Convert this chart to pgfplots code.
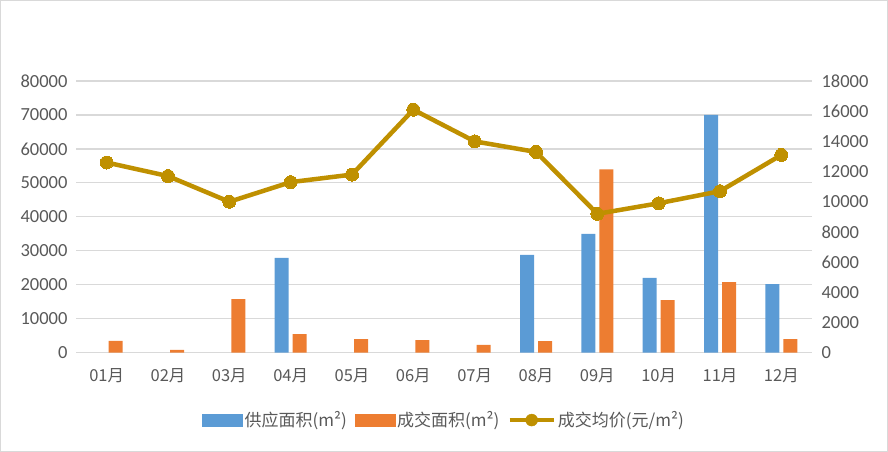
\documentclass[border=0pt]{standalone}
\usepackage{pgfplots}
\pgfplotsset{compat=1.18}
\usepackage{fontspec}
\setmainfont{Carlito}
\newfontfamily\cjk{Noto Sans CJK SC}
\definecolor{cblue}{HTML}{5B9BD5}
\definecolor{corange}{HTML}{ED7D31}
\definecolor{cgold}{HTML}{BF9000}
\definecolor{cgrid}{HTML}{D9D9D9}
\definecolor{ctext}{HTML}{595959}
\begin{document}
\begin{tikzpicture}
\draw[cgrid, line width=1pt] (0.5pt,0.5pt) rectangle (887.5pt,451.5pt);
\pgfplotsset{
  common/.style={
    at={(76pt,99.3pt)}, anchor=south west,
    scale only axis, width=736pt, height=271.7pt,
    xmin=-0.5, xmax=11.5,
    major tick length=0pt,
    scaled y ticks=false,
    tick label style={font=\fontsize{18.5}{20}\selectfont, text=ctext},
    /pgf/number format/assume math mode=true,
    /pgf/number format/fixed,
    /pgf/number format/1000 sep={},
  }
}
\begin{axis}[common,
  ymin=0, ymax=80000, ytick distance=10000,
  axis y line*=left, axis x line*=bottom,
  y axis line style={draw=none},
  x axis line style={draw=cgrid, line width=1.2pt},
  ymajorgrids, grid style={cgrid, line width=1.2pt},
  xtick={0,...,11},
  xticklabels={01月,02月,03月,04月,05月,06月,07月,08月,09月,10月,11月,12月},
  xticklabel style={font=\cjk\fontsize{16.5}{20}\selectfont, text=ctext, yshift=-12pt},
  yticklabel style={xshift=-5pt},
  ybar, bar width=14pt,
]
\addplot[fill=cblue, draw=none, bar shift=-9pt] coordinates {
 (3,27900) (7,28800) (8,35000) (9,22000) (10,70000) (11,20200)};
\addplot[fill=corange, draw=none, bar shift=9pt] coordinates {
 (0,3500) (1,800) (2,15800) (3,5500) (4,4000) (5,3700) (6,2300) (7,3400) (8,54000) (9,15500) (10,20800) (11,4000)};
\end{axis}
\begin{axis}[common,
  ymin=0, ymax=18000, ytick distance=2000,
  axis y line*=right, axis x line=none,
  y axis line style={draw=none},
  yticklabel style={xshift=6pt},
  legend style={at={(0.5,-0.248)}, anchor=center, draw=none, fill=none,
    legend columns=3, font=\cjk\fontsize{17}{20}\selectfont, text=ctext,
    /tikz/every even column/.append style={column sep=6pt}},
  legend cell align=left,
]
\addlegendimage{legend image code/.code={\fill[cblue] (0pt,-6pt) rectangle (40pt,6pt);}}
\addlegendentry{供应面积(m²)}
\addlegendimage{legend image code/.code={\fill[corange] (0pt,-6pt) rectangle (40pt,6pt);}}
\addlegendentry{成交面积(m²)}
\addlegendimage{legend image code/.code={\draw[cgold, line width=4.5pt] (0pt,0pt) -- (44pt,0pt); \fill[cgold] (22pt,0pt) circle (6pt);}}
\addlegendentry{成交均价(元/m²)}
\addplot[cgold, line width=4.5pt, mark=*, mark size=6.5pt, mark options={fill=cgold, draw=cgold, line width=0pt}] coordinates {
 (0,12600) (1,11700) (2,10000) (3,11300) (4,11800) (5,16100) (6,14000) (7,13300) (8,9200) (9,9900) (10,10700) (11,13100)};
\end{axis}
\end{tikzpicture}
\end{document}
